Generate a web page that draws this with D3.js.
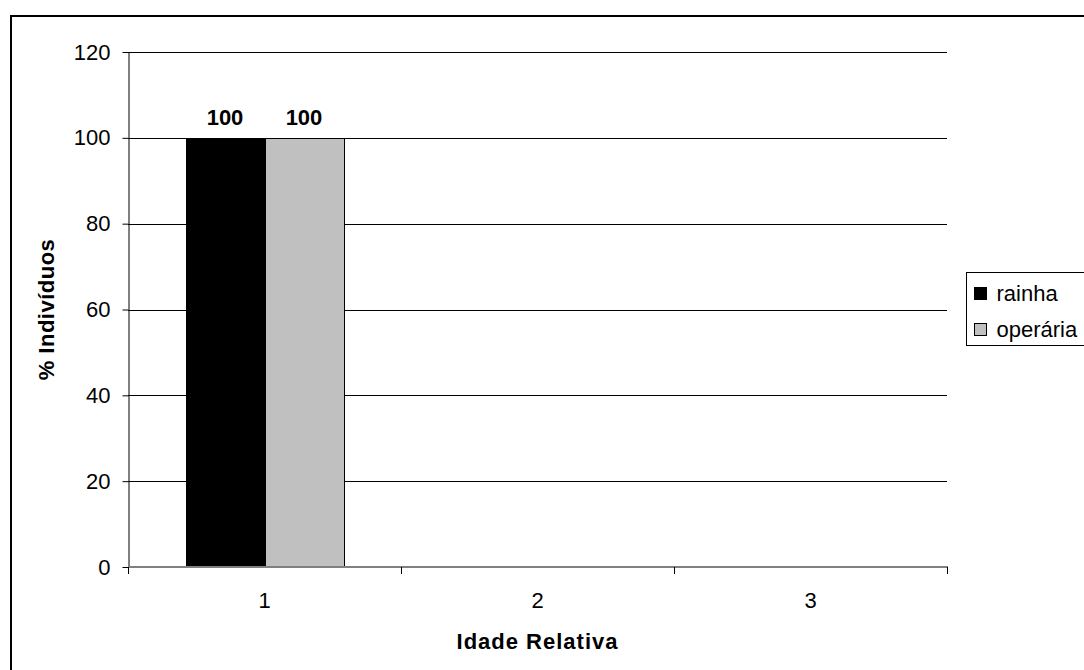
<!DOCTYPE html>
<html>
<head>
<meta charset="utf-8">
<script src="https://cdn.jsdelivr.net/npm/d3@7"></script>
<style>
  body { margin: 0; background: #fff; }
  svg { display: block; font-family: "Liberation Sans", Arial, sans-serif; }
</style>
</head>
<body>
<div id="chart"></div>
<script>
// Bar chart: % of individuals per relative age

const categories = ["1", "2", "3"];
const seriesNames = ["rainha", "operária"];
const seriesColours = ["#000000", "#c0c0c0"];
const rainha = [100, null, null];
const operaria = [100, null, null];
const yTicks = [0, 20, 40, 60, 80, 100, 120];

const series = [rainha, operaria];

let width = 1084, height = 670;
let margin = { top: 52, right: 137, bottom: 103, left: 128 };

let svg = d3.select("#chart")
    .append("svg")
        .attr("width", width)
        .attr("height", height);

// Outer frame (runs off the right and bottom edges)
svg.append("rect")
    .attr("x", 11).attr("y", 16)
    .attr("width", 1200).attr("height", 800)
    .attr("fill", "none")
    .attr("stroke", "#000")
    .attr("stroke-width", 2);

// Scales
let x = d3.scaleBand()
    .domain(categories)
    .range([margin.left, width - margin.right])
    .paddingInner(0).paddingOuter(0);

let xs = d3.scaleBand()
    .domain(seriesNames)
    .range([0, x.bandwidth()])
    .paddingInner(0).paddingOuter(0.728);

let y = d3.scaleLinear()
    .domain([0, 120])
    .range([height - margin.bottom, margin.top]);

// Grid lines
svg.append("g")
    .selectAll("line")
    .data(yTicks.filter(d => d > 0))
    .join("line")
        .attr("x1", margin.left).attr("x2", width - margin.right)
        .attr("y1", d => Math.round(y(d)) + 0.5)
        .attr("y2", d => Math.round(y(d)) + 0.5)
        .attr("stroke", "#000")
        .attr("stroke-width", 1);

// Bars
seriesNames.forEach(function(name, i) {
    svg.append("g")
        .selectAll("rect")
        .data(categories.map((c, j) => ({ c: c, v: series[i][j] })).filter(d => d.v != null))
        .join("rect")
            .attr("x", d => Math.round(x(d.c) + xs(name)) + 0.5)
            .attr("y", d => Math.round(y(d.v)) + 0.5)
            .attr("width", Math.round(xs.bandwidth()))
            .attr("height", d => Math.round(y(0)) - Math.round(y(d.v)))
            .attr("fill", seriesColours[i])
            .attr("stroke", "#000")
            .attr("stroke-width", 1);

    // Value labels
    svg.append("g")
        .selectAll("text")
        .data(categories.map((c, j) => ({ c: c, v: series[i][j] })).filter(d => d.v != null))
        .join("text")
            .text(d => d.v)
            .attr("x", d => x(d.c) + xs(name) + xs.bandwidth() / 2)
            .attr("y", d => y(d.v) - 13)
            .attr("text-anchor", "middle")
            .style("font-size", "22px")
            .style("font-weight", "bold");
});

// Y axis
let yAxis = svg.append("g")
    .attr("transform", "translate(" + (margin.left + 0.5) + ",0)")
    .call(d3.axisLeft(y).tickValues(yTicks).tickSize(6).tickSizeOuter(0));
yAxis.select(".domain").attr("stroke", "#000");
yAxis.selectAll(".tick line").attr("stroke", "#000");
yAxis.selectAll(".tick text")
    .attr("x", -18)
    .style("font-size", "22px")
    .style("font-family", "Liberation Sans, Arial, sans-serif")
    .attr("fill", "#000");

// X axis: gray baseline with ticks at category boundaries
let xb = svg.append("g");
xb.append("line")
    .attr("x1", margin.left).attr("x2", width - margin.right + 1)
    .attr("y1", y(0)).attr("y2", y(0))
    .attr("stroke", "#808080")
    .attr("stroke-width", 2);
let bounds = categories.map(c => x(c)).concat([x(categories[categories.length - 1]) + x.bandwidth()]);
xb.selectAll("line.tk")
    .data(bounds)
    .join("line")
        .attr("class", "tk")
        .attr("x1", d => Math.round(d) + 0.5).attr("x2", d => Math.round(d) + 0.5)
        .attr("y1", y(0)).attr("y2", y(0) + 7)
        .attr("stroke", "#000");
xb.selectAll("text")
    .data(categories)
    .join("text")
        .text(d => d)
        .attr("x", d => x(d) + x.bandwidth() / 2)
        .attr("y", y(0) + 41)
        .attr("text-anchor", "middle")
        .style("font-size", "22px");

// Axis titles
svg.append("text")
    .text("Idade Relativa")
    .attr("x", x("2") + x.bandwidth() / 2)
    .attr("y", 649)
    .attr("text-anchor", "middle")
    .style("font-size", "22px")
    .style("font-weight", "bold")
    .style("letter-spacing", "1px");

svg.append("text")
    .text("% Indivíduos")
    .attr("transform", "translate(54," + ((y(0) + y(120)) / 2) + ") rotate(-90)")
    .attr("text-anchor", "middle")
    .style("font-size", "22px")
    .style("font-weight", "bold")
    .style("letter-spacing", "0.5px");

// Legend
let lx = 966.5, ly = 272.5;
svg.append("rect")
    .attr("x", lx).attr("y", ly)
    .attr("width", 200).attr("height", 73)
    .attr("fill", "#fff")
    .attr("stroke", "#000");
seriesNames.forEach(function(name, i) {
    let yy = ly + 15 + i * 36;
    svg.append("rect")
        .attr("x", lx + 8).attr("y", yy)
        .attr("width", 12).attr("height", 12)
        .attr("fill", seriesColours[i])
        .attr("stroke", "#000");
    svg.append("text").text(name)
        .attr("x", lx + 30).attr("y", yy + 13)
        .style("font-size", "22px");
});
</script>
</body>
</html>
